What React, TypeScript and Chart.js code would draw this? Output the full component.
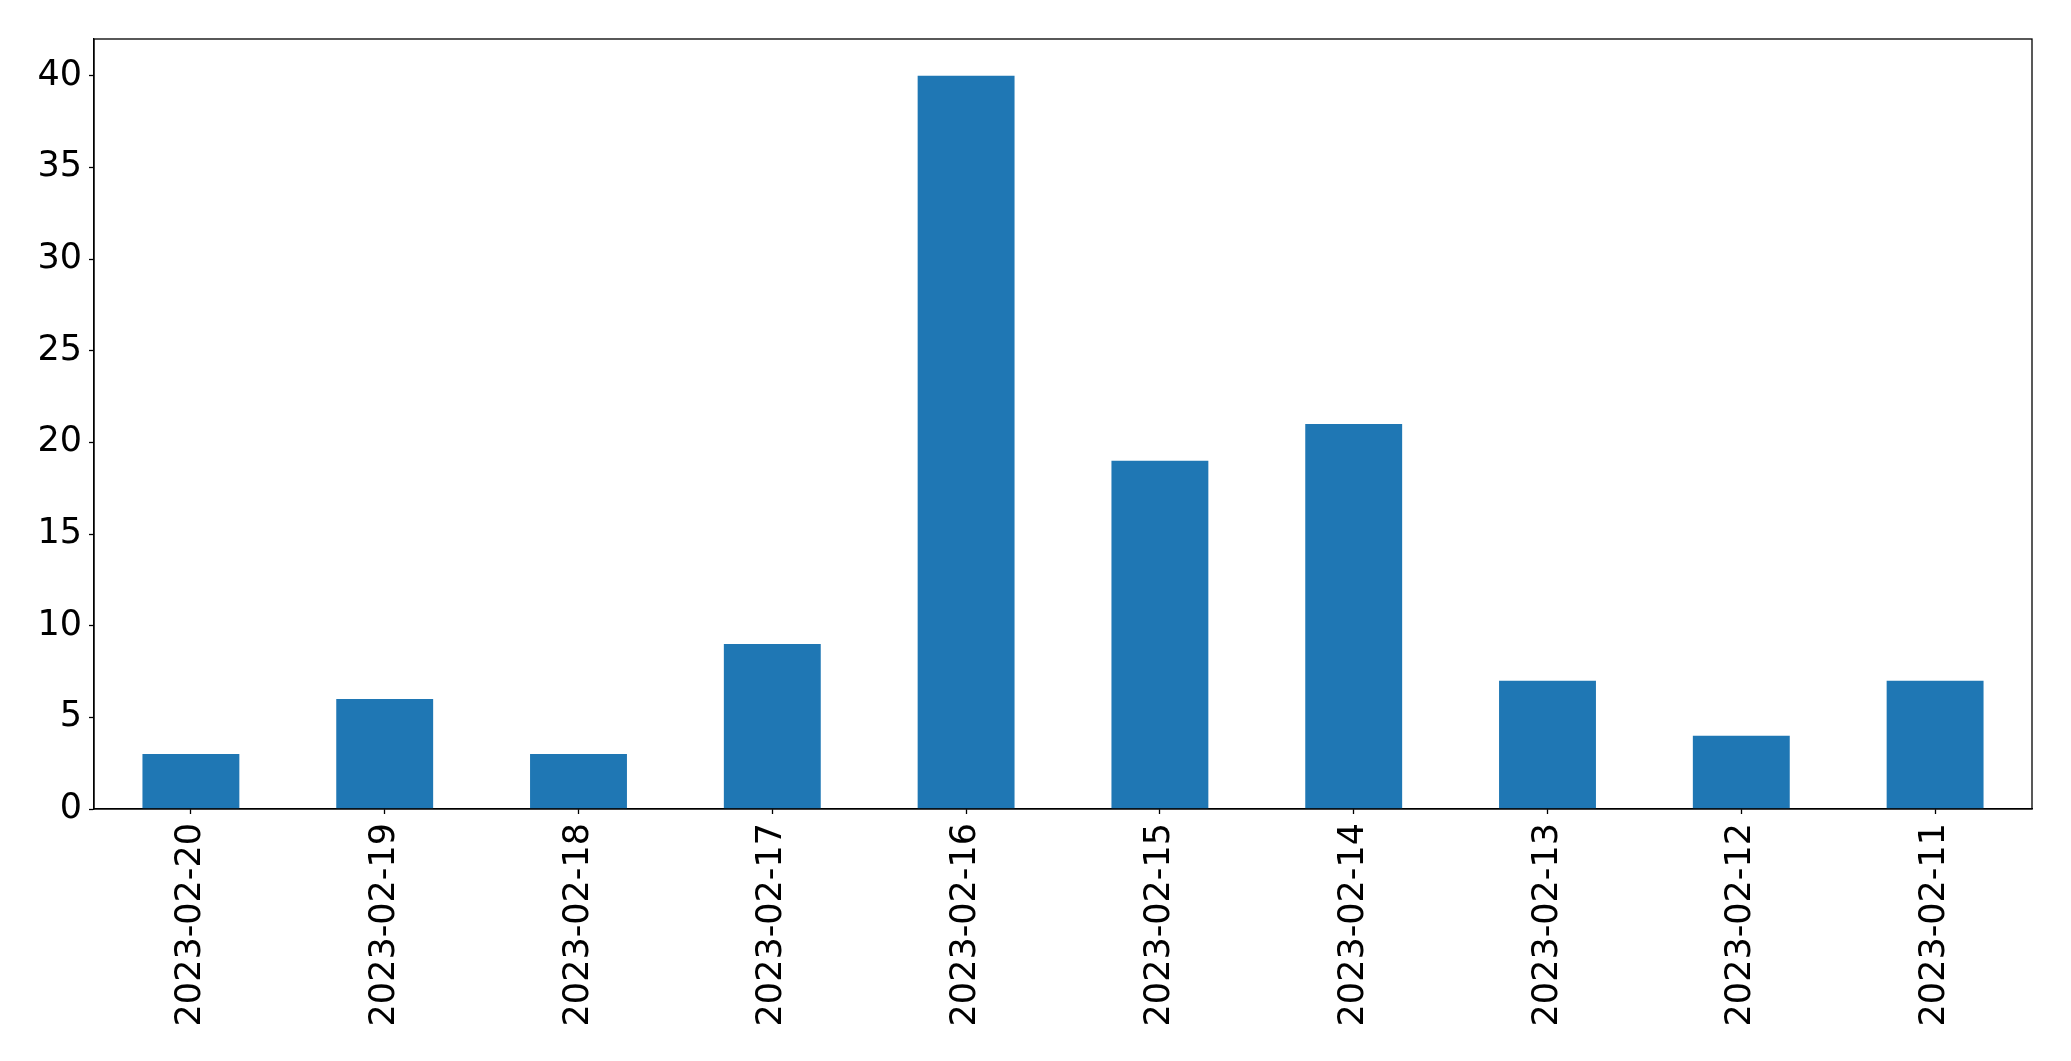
import React, { useEffect, useRef } from "react";
import { Chart, registerables } from "chart.js";

Chart.register(...registerables);

const categories: string[] = [
  "2023-02-20",
  "2023-02-19",
  "2023-02-18",
  "2023-02-17",
  "2023-02-16",
  "2023-02-15",
  "2023-02-14",
  "2023-02-13",
  "2023-02-12",
  "2023-02-11",
];
const counts: number[] = [3, 6, 3, 9, 40, 19, 21, 7, 4, 7];
const yTicks: number[] = [0, 5, 10, 15, 20, 25, 30, 35, 40];
const yMax = 42;

const W = 2071;
const H = 1061;
const FONT = "'DejaVu Sans', sans-serif";

const framePlugin = {
  id: "frame",
  afterDraw(chart: any) {
    const { ctx, chartArea } = chart;
    ctx.save();
    ctx.strokeStyle = "#000";
    ctx.lineWidth = 1.3;
    ctx.strokeRect(chartArea.left, chartArea.top, chartArea.right - chartArea.left, chartArea.bottom - chartArea.top);
    ctx.restore();
  },
};

export default function App() {
  const ref = useRef<HTMLCanvasElement | null>(null);

  useEffect(() => {
    document.body.style.margin = "0";
    const canvas = ref.current;
    if (!canvas) return;
    const chart = new Chart(canvas, {
      type: "bar",
      data: {
        labels: categories,
        datasets: [
          {
            data: counts,
            backgroundColor: "#1f77b4",
            borderWidth: 0,
            barPercentage: 0.5,
            categoryPercentage: 1,
          },
        ],
      },
      options: {
        responsive: false,
        animation: false,
        devicePixelRatio: 1,
        layout: { padding: { top: 39, right: 39, left: 0, bottom: 0 } },
        plugins: {
          legend: { display: false },
          tooltip: { enabled: false },
        },
        scales: {
          x: {
            type: "category",
            offset: true,
            grid: {
              display: true,
              offset: false,
              drawOnChartArea: false,
              drawTicks: true,
              tickLength: 5,
              tickColor: "#000",
              tickWidth: 1.3,
            },
            border: { display: true, color: "#000", width: 1.3 },
            ticks: {
              color: "#000",
              font: { family: FONT, size: 35 },
              minRotation: 90,
              maxRotation: 90,
              padding: 9,
              autoSkip: false,
            },
            afterFit(scale: any) {
              scale.height = H - 809;
            },
          },
          y: {
            type: "linear",
            min: 0,
            max: yMax,
            grid: {
              display: true,
              drawOnChartArea: false,
              drawTicks: true,
              tickLength: 5,
              tickColor: "#000",
              tickWidth: 1.3,
            },
            border: { display: true, color: "#000", width: 1.3 },
            ticks: {
              color: "#000",
              font: { family: FONT, size: 35 },
              padding: 7,
              stepSize: 5,
            },
            afterBuildTicks(scale: any) {
              scale.ticks = yTicks.map((v) => ({ value: v }));
            },
            afterFit(scale: any) {
              scale.width = 94;
            },
          },
        },
      },
      plugins: [framePlugin],
    });
    return () => chart.destroy();
  }, []);

  return (
    <div style={{ position: "absolute", left: 0, top: 0, width: W, height: H, background: "#fff" }}>
      <canvas ref={ref} width={W} height={H} style={{ display: "block", width: W, height: H }} />
    </div>
  );
}
